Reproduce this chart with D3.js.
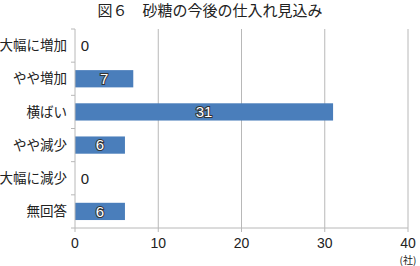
<!DOCTYPE html>
<html lang="ja">
<head>
  <meta charset="UTF-8" />
  <title>図６ 砂糖の今後の仕入れ見込み</title>
  <script src="https://d3js.org/d3.v7.min.js"></script>
  <style>
    body {
      margin: 0;
      background: #ffffff;
      font-family: 'Noto Sans CJK JP', 'Noto Sans', sans-serif;
    }
    text {
      font-family: 'Noto Sans CJK JP', 'Noto Sans', sans-serif;
      fill: #222;
    }
    text.num {
      font-family: 'Liberation Sans', 'Noto Sans', sans-serif;
    }
  </style>
</head>
<body>
  <div id="chart"></div>

  <script>
    const categories = ["大幅に増加", "やや増加", "横ばい", "やや減少", "大幅に減少", "無回答"];
    const counts = [0, 7, 31, 6, 0, 6];
    const xTicks = [0, 10, 20, 30, 40];
    const title = "図６　砂糖の今後の仕入れ見込み";
    const unitLabel = "(社)";

    const width = 420;
    const height = 266;
    const margin = { top: 29, right: 12, bottom: 38, left: 75 };

    const svg = d3.select("#chart").append("svg")
      .attr("width", width)
      .attr("height", height);

    svg.append("text")
      .attr("x", width / 2)
      .attr("y", 16)
      .attr("text-anchor", "middle")
      .style("font-size", "15px")
      .text(title);

    const x = d3.scaleLinear()
      .domain([0, 40])
      .range([margin.left, 408]);

    const y = d3.scaleBand()
      .domain(categories)
      .range([margin.top, height - margin.bottom])
      .paddingInner(0.48)
      .paddingOuter(0.24);

    // band edges for the category tick marks
    const step = y.step();
    const y0 = margin.top;
    const y1 = height - margin.bottom;

    // vertical gridlines
    svg.append("g")
      .selectAll("line")
      .data(xTicks.slice(1))
      .enter().append("line")
      .attr("x1", d => x(d))
      .attr("x2", d => x(d))
      .attr("y1", y0)
      .attr("y2", y1 + 4)
      .attr("stroke", "#b8b8b8")
      .attr("stroke-width", 1);

    // bars
    svg.append("g")
      .selectAll("rect")
      .data(categories)
      .enter().append("rect")
      .attr("x", x(0))
      .attr("y", d => y(d))
      .attr("width", (d, i) => x(counts[i]) - x(0))
      .attr("height", y.bandwidth())
      .attr("fill", "#4a7ebb");

    // axis lines
    svg.append("line")
      .attr("x1", x(0)).attr("x2", x(0))
      .attr("y1", y0).attr("y2", y1 + 4)
      .attr("stroke", "#b8b8b8");
    svg.append("line")
      .attr("x1", x(0) - 4).attr("x2", x(40))
      .attr("y1", y1).attr("y2", y1)
      .attr("stroke", "#b8b8b8");

    // category tick marks
    svg.append("g")
      .selectAll("line")
      .data(d3.range(categories.length))
      .enter().append("line")
      .attr("x1", x(0) - 4)
      .attr("x2", x(0))
      .attr("y1", i => y0 + i * step)
      .attr("y2", i => y0 + i * step)
      .attr("stroke", "#b8b8b8");

    // category labels
    svg.append("g")
      .selectAll("text")
      .data(categories)
      .enter().append("text")
      .attr("x", x(0) - 8)
      .attr("y", d => y(d) + y.bandwidth() / 2)
      .attr("dy", "0.35em")
      .attr("text-anchor", "end")
      .style("font-size", "13.5px")
      .text(d => d);

    // x tick labels
    svg.append("g")
      .selectAll("text")
      .data(xTicks)
      .enter().append("text")
      .attr("class", "num")
      .attr("x", d => x(d))
      .attr("y", 248)
      .attr("text-anchor", "middle")
      .style("font-size", "14px")
      .text(d => d);

    svg.append("text")
      .attr("x", x(40))
      .attr("y", 264)
      .attr("text-anchor", "middle")
      .style("font-size", "10px")
      .text(unitLabel);

    // data labels
    svg.append("g")
      .selectAll("text")
      .data(categories)
      .enter().append("text")
      .attr("class", "num")
      .attr("x", (d, i) => counts[i] === 0 ? x(0) + 10 : (x(0) + x(counts[i])) / 2)
      .attr("y", d => y(d) + y.bandwidth() / 2)
      .attr("dy", "0.36em")
      .attr("text-anchor", "middle")
      .style("font-size", "15px")
      .style("fill", (d, i) => counts[i] === 0 ? "#222" : "#ffffff")
      .style("stroke", (d, i) => counts[i] === 0 ? "none" : "#333")
      .style("stroke-width", "2px")
      .style("paint-order", "stroke")
      .text((d, i) => counts[i]);
  </script>
</body>
</html>
